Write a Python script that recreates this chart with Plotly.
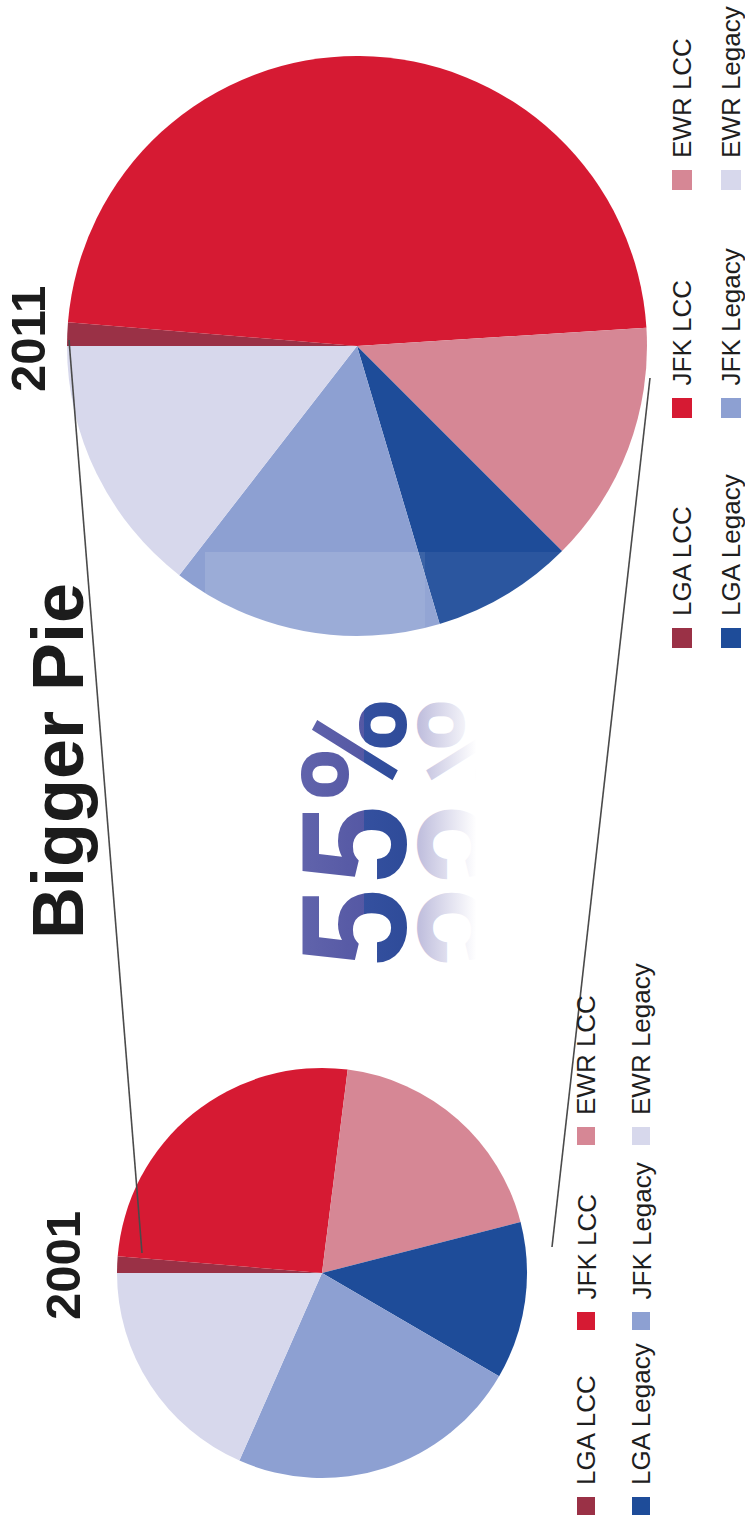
import plotly.graph_objects as go

W, H = 745, 1540

# ---- data -------------------------------------------------------------
categories = ["LGA LCC", "JFK LCC", "EWR LCC", "LGA Legacy", "JFK Legacy", "EWR Legacy"]
share_2001 = [1.3, 25.7, 19.0, 12.4, 23.2, 18.4]
share_2011 = [1.3, 47.7, 13.5, 7.9, 15.1, 14.5]
years = ["2001", "2011"]
title_text = "Bigger Pie"
growth_label = "55%"

# ---- styling ----------------------------------------------------------
slice_colors = ["#9A3146", "#D61A33", "#D68795", "#1E4C99", "#8DA0D2", "#D7D8EC"]
text_dark = "#1c1c1c"

# pie geometry in page pixels (the page is laid out on its side)
pie_geom = {
    "2001": dict(cx=322, cy=1273, r=205),
    "2011": dict(cx=357, cy=346, r=290),
}
pie_values = {"2001": share_2001, "2011": share_2011}

# legend geometry: column x centres (LCC, Legacy), row y centres (LGA, JFK, EWR)
legend_geom = {
    "2001": dict(col_x=[586, 641], row_y=[1506, 1321, 1136], sq=18, fs=26),
    "2011": dict(col_x=[682, 731], row_y=[638, 408, 180], sq=20, fs=26),
}
year_label_pos = {"2001": (63, 1266), "2011": (28, 339)}


def px(x):
    return x / W


def py(y):
    return 1 - y / H


fig = go.Figure()

for yr in years:
    g = pie_geom[yr]
    fig.add_trace(go.Pie(
        labels=categories,
        values=pie_values[yr],
        marker=dict(colors=slice_colors, line=dict(width=0)),
        sort=False,
        direction="clockwise",
        rotation=270,
        textinfo="none",
        hoverinfo="label+percent",
        showlegend=False,
        domain=dict(x=[px(g["cx"] - g["r"]), px(g["cx"] + g["r"])],
                    y=[py(g["cy"] + g["r"]), py(g["cy"] - g["r"])]),
        name=yr,
    ))

shapes = []
annotations = []

# faint glare boxes where the reflected label sits over the large pie
for (x0, x1, alpha) in [(205, 425, 0.13), (425, 600, 0.06)]:
    shapes.append(dict(type="rect", xref="paper", yref="paper", layer="above",
                       x0=px(x0), x1=px(x1), y0=py(645), y1=py(552),
                       fillcolor=f"rgba(255,255,255,{alpha})", line=dict(width=0)))

# connector lines between the two pies
for (x0, y0, x1, y1) in [(142, 1253, 69, 340), (552, 1247, 650, 378)]:
    shapes.append(dict(type="line", xref="paper", yref="paper", layer="above",
                       x0=px(x0), y0=py(y0), x1=px(x1), y1=py(y1),
                       line=dict(color="#4a4a4a", width=1.6)))

# legends (squares + rotated labels)
for yr in years:
    lg = legend_geom[yr]
    for i, cat in enumerate(categories):
        col, row = i // 3, i % 3
        cx, cy, s = lg["col_x"][col], lg["row_y"][row], lg["sq"]
        shapes.append(dict(type="rect", xref="paper", yref="paper", layer="above",
                           x0=px(cx - s / 2), x1=px(cx + s / 2),
                           y0=py(cy + s / 2), y1=py(cy - s / 2),
                           fillcolor=slice_colors[i], line=dict(width=0)))
        annotations.append(dict(
            text=cat, xref="paper", yref="paper", showarrow=False,
            x=px(cx), y=py(cy - s / 2 - 10), xanchor="center", yanchor="bottom",
            textangle=-90,
            font=dict(family="Liberation Sans Narrow, Arial Narrow, Liberation Sans, Arial",
                      size=lg["fs"], color="#1e1e1e"),
        ))

# title and year labels
annotations.append(dict(
    text=title_text, xref="paper", yref="paper", showarrow=False,
    x=px(58), y=py(761), xanchor="center", yanchor="middle", textangle=-90,
    font=dict(family="Liberation Sans, Arial", size=72, color=text_dark, weight="bold"),
))
for yr in years:
    x, y = year_label_pos[yr]
    annotations.append(dict(
        text=yr, xref="paper", yref="paper", showarrow=False,
        x=px(x), y=py(y), xanchor="center", yanchor="middle", textangle=-90,
        font=dict(family="Liberation Sans, Arial", size=49, color=text_dark, weight="bold"),
    ))

# growth label and its reflection
idx_main = len(annotations)
for _ in range(2):
    annotations.append(dict(
        text=growth_label, xref="paper", yref="paper", showarrow=False,
        x=px(356), y=py(833), xanchor="center", yanchor="middle", textangle=-90,
        font=dict(family="Roboto, Liberation Sans, Arial", size=145,
                  color="#4B55A3", weight="bold"),
    ))
idx_refl = idx_main + 1
mirror_x = 412

fig.update_layout(
    width=W, height=H,
    margin=dict(l=0, r=0, t=0, b=0),
    paper_bgcolor="white",
    plot_bgcolor="white",
    shapes=shapes,
    annotations=annotations,
)

post_script = """
var gd = document.getElementById('{plot_id}');
var NS = 'http://www.w3.org/2000/svg';
var defs = gd.querySelector('defs');
function grad(id, stops) {
  var g = document.createElementNS(NS, 'linearGradient');
  g.setAttribute('id', id);
  g.setAttribute('x1', '0'); g.setAttribute('y1', '0');
  g.setAttribute('x2', '0'); g.setAttribute('y2', '1');
  stops.forEach(function (s) {
    var st = document.createElementNS(NS, 'stop');
    st.setAttribute('offset', s[0]);
    st.setAttribute('stop-color', s[1]);
    st.setAttribute('stop-opacity', s[2]);
    g.appendChild(st);
  });
  defs.appendChild(g);
}
grad('grad55', [[0, '#6669AF', 1], [0.55, '#5558A4', 1], [0.55, '#34509F', 1], [1, '#2A4794', 1]]);
grad('grad55r', [[0, '#9C9ACB', 0], [0.45, '#9C9ACB', 0], [0.78, '#9896C8', 0.6], [1, '#9896C8', 0.65]]);
var main = gd.querySelector('g.annotation[data-index="IDX_MAIN"]');
if (main) { main.querySelector('text').style.fill = 'url(#grad55)'; }
var refl = gd.querySelector('g.annotation[data-index="IDX_REFL"]');
if (refl) {
  refl.querySelector('text').style.fill = 'url(#grad55r)';
  refl.setAttribute('transform', 'translate(MIRROR2,0) scale(-1,1)');
}
""".replace("IDX_MAIN", str(idx_main)).replace("IDX_REFL", str(idx_refl)).replace("MIRROR2", str(2 * mirror_x))

fig.write_html("out.html", post_script=post_script, config=dict(displayModeBar=False))
